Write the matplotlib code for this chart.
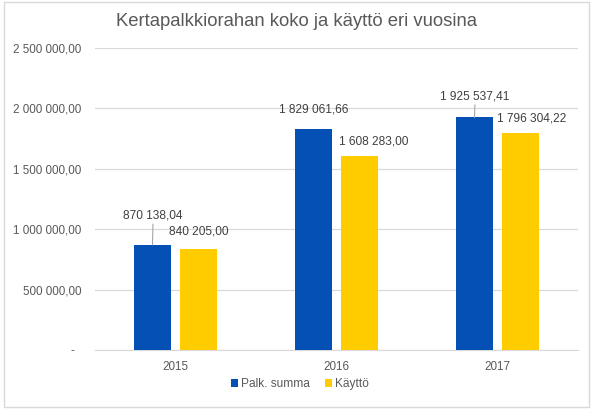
import matplotlib.pyplot as plt
import numpy as np
from matplotlib.ticker import FuncFormatter
from matplotlib.patches import Rectangle

plt.rcParams['font.family'] = ['Liberation Sans', 'DejaVu Sans']

years = ["2015", "2016", "2017"]
palk_summa = [870138.04, 1829061.66, 1925537.41]
kaytto = [840205.00, 1608283.00, 1796304.22]
yticks = [0, 500000, 1000000, 1500000, 2000000, 2500000]

TXT = "#595959"
GRID = "#D9D9D9"
BLUE = "#0550B5"
YELLOW = "#FFCC00"

# label offsets in points (dx, dy) and whether a leader line is drawn
off_blue = [(0.5, 17), (0.5, 10), (0.5, 11)]
lead_blue = [True, False, True]
off_yel = [(0.5, 8), (10, 6), (8, 6)]


def fmt(v, pos=None):
    if v == 0:
        return "-  "
    s = "{:,.2f}".format(v)
    return s.replace(",", " ").replace(".", ",")


def main():
    fig = plt.figure(figsize=(5.92, 4.09), dpi=100)
    ax = fig.add_axes([95 / 592, 59 / 409, 483 / 592, 302 / 409])

    x = np.arange(len(years))
    w = 0.224
    ax.bar(x - 0.143, palk_summa, w, color=BLUE, label="Palk. summa", zorder=3)
    ax.bar(x + 0.143, kaytto, w, color=YELLOW, label="Käyttö", zorder=3)

    for i in range(len(years)):
        dx, dy = off_blue[i]
        ap = dict(arrowstyle="-", color="#A6A6A6", lw=0.8, shrinkA=0, shrinkB=0) if lead_blue[i] else None
        ax.annotate(fmt(palk_summa[i]), (x[i] - 0.143, palk_summa[i]),
                    xytext=(dx, dy), textcoords="offset points",
                    ha="center", va="bottom", fontsize=8.6, color="#404040",
                    arrowprops=ap)
        dx, dy = off_yel[i]
        ax.annotate(fmt(kaytto[i]), (x[i] + 0.143, kaytto[i]),
                    xytext=(dx, dy), textcoords="offset points",
                    ha="center", va="bottom", fontsize=8.6, color="#404040")

    ax.set_xlim(-0.5, 2.5)
    ax.set_ylim(0, 2500000)
    ax.set_xticks(x)
    ax.set_xticklabels(years)
    ax.set_yticks(yticks)
    ax.yaxis.set_major_formatter(FuncFormatter(fmt))
    ax.grid(axis="y", color=GRID, lw=0.9, zorder=0)
    for s in ["top", "right", "left"]:
        ax.spines[s].set_visible(False)
    ax.spines["bottom"].set_color(GRID)
    ax.tick_params(axis="both", length=0, labelsize=8.4, colors=TXT)
    ax.tick_params(axis="y", pad=10)
    ax.tick_params(axis="x", pad=8)

    fig.text(0.5, 1 - 22 / 409, "Kertapalkkiorahan koko ja käyttö eri vuosina",
             ha="center", va="center", fontsize=13.3, color=TXT)

    fig.legend(loc="center", bbox_to_anchor=(300 / 592, 1 - 384 / 409), ncol=2,
               frameon=False, fontsize=8.6, labelcolor=TXT, handlelength=0.6,
               handleheight=0.6, handletextpad=0.3, columnspacing=1.2)

    fig.patches.append(Rectangle((4 / 592, 2 / 409), 585 / 592, 405 / 409,
                                 transform=fig.transFigure, fill=False,
                                 edgecolor=GRID, lw=1))

    fig.savefig("out.png", dpi=100)
    plt.close()


if __name__ == '__main__':
    main()
